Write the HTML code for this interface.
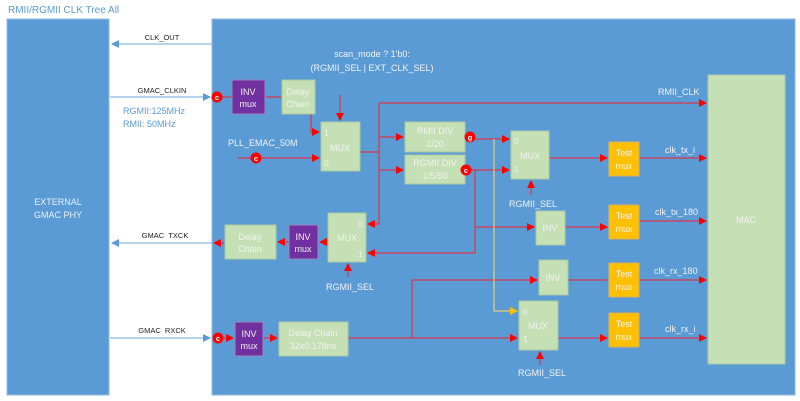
<!DOCTYPE html>
<html><head><meta charset="utf-8"><style>
body{margin:0;background:#fff}
svg{display:block;font-family:"Liberation Sans",sans-serif}
</style></head><body>
<svg width="800" height="401" viewBox="0 0 800 401" xmlns="http://www.w3.org/2000/svg">
<defs>
<marker id="ar" markerWidth="8" markerHeight="8" refX="7" refY="4" orient="auto" markerUnits="userSpaceOnUse"><path d="M0,0 L8,4 L0,8z" fill="#ff0000"/></marker>
<marker id="ab" markerWidth="8" markerHeight="8" refX="7" refY="4" orient="auto" markerUnits="userSpaceOnUse"><path d="M0,0 L8,4 L0,8z" fill="#5b9bd5"/></marker>
<marker id="ay" markerWidth="8" markerHeight="8" refX="7" refY="4" orient="auto" markerUnits="userSpaceOnUse"><path d="M0,0 L8,4 L0,8z" fill="#ffc000"/></marker>
</defs>
<text x="8" y="13" font-size="10" fill="#5b9bd5">RMII/RGMII CLK Tree All</text>
<rect x="7" y="19" width="102" height="376" fill="#5b9bd5" stroke="#8fb8e0"/>
<text x="58" y="205" font-size="9" fill="#e8f0f8" text-anchor="middle">EXTERNAL</text>
<text x="58" y="218" font-size="9" fill="#e8f0f8" text-anchor="middle">GMAC PHY</text>
<rect x="212" y="19" width="583" height="376" fill="#5b9bd5" stroke="#8fb8e0"/>

<g stroke="#9dc3e6" stroke-width="1.5" fill="none">
<line x1="212" y1="44" x2="112" y2="44" marker-end="url(#ab)"/>
<line x1="110" y1="97" x2="210" y2="97" marker-end="url(#ab)"/>
<line x1="212" y1="243" x2="112" y2="243" marker-end="url(#ab)"/>
<line x1="110" y1="338" x2="210" y2="338" marker-end="url(#ab)"/>
</g>
<g font-size="7.5" fill="#222" text-anchor="middle">
<text x="162" y="40">CLK_OUT</text>
<text x="162" y="93">GMAC_CLKIN</text>
<text x="165" y="238">GMAC&#160;&#160;TXCK</text>
<text x="162" y="333">GMAC&#160;&#160;RXCK</text>
</g>
<text x="123" y="114" font-size="9" fill="#5b9bd5">RGMII:125MHz</text>
<text x="123" y="127" font-size="9" fill="#5b9bd5">RMII: 50MHz</text>

<g stroke="#d9364a" stroke-width="1.2" fill="none">
<line x1="222" y1="97" x2="232" y2="97"/>
<line x1="265" y1="97" x2="282" y2="97"/>
<polyline points="311,114 311,132 319,132" marker-end="url(#ar)"/>
<line x1="340" y1="95" x2="340" y2="120" marker-end="url(#ar)"/>
<line x1="238" y1="158" x2="319" y2="158" marker-end="url(#ar)"/>
<polyline points="360,152 379,152"/>
<polyline points="379,103 379,224 368,224" marker-end="url(#ar)"/>
<line x1="379" y1="103" x2="706" y2="103" marker-end="url(#ar)"/>
<line x1="379" y1="137" x2="403" y2="137" marker-end="url(#ar)"/>
<line x1="379" y1="170" x2="403" y2="170" marker-end="url(#ar)"/>
<line x1="474" y1="139" x2="509" y2="139" marker-end="url(#ar)"/>
<line x1="470" y1="170" x2="509" y2="170" marker-end="url(#ar)"/>
<polyline points="475,170 475,253 368,253" marker-end="url(#ar)"/>
<line x1="475" y1="227" x2="534" y2="227" marker-end="url(#ar)"/>
<line x1="531" y1="195" x2="531" y2="181" marker-end="url(#ar)"/>
<line x1="549" y1="158" x2="607" y2="158" marker-end="url(#ar)"/>
<line x1="639" y1="158" x2="706" y2="158" marker-end="url(#ar)"/>
<line x1="565" y1="227" x2="607" y2="227" marker-end="url(#ar)"/>
<line x1="639" y1="221" x2="706" y2="221" marker-end="url(#ar)"/>
<line x1="328" y1="242" x2="320" y2="242" marker-end="url(#ar)"/>
<line x1="289" y1="242" x2="278" y2="242" marker-end="url(#ar)"/>
<line x1="225" y1="243" x2="214" y2="243" marker-end="url(#ar)"/>
<line x1="348" y1="277" x2="348" y2="264" marker-end="url(#ar)"/>
<line x1="224" y1="338" x2="233" y2="338" marker-end="url(#ar)"/>
<line x1="263" y1="338" x2="277" y2="338" marker-end="url(#ar)"/>
<line x1="348" y1="338" x2="517" y2="338" marker-end="url(#ar)"/>
<polyline points="412,338 412,280 537,280" marker-end="url(#ar)"/>
<line x1="568" y1="280" x2="607" y2="280"/>
<line x1="639" y1="280" x2="706" y2="280" marker-end="url(#ar)"/>
<line x1="558" y1="338" x2="607" y2="338" marker-end="url(#ar)"/>
<line x1="639" y1="338" x2="706" y2="338" marker-end="url(#ar)"/>
<line x1="540" y1="365" x2="540" y2="352" marker-end="url(#ar)"/>
</g>
<polyline points="494,139 494,311 517,311" stroke="#ffd966" stroke-width="1" fill="none" marker-end="url(#ay)"/>

<g stroke="#a9c9a0" stroke-width="1" fill="#c5e0b4">
<rect x="282" y="80" width="33" height="34"/>
<rect x="321" y="122" width="39" height="49"/>
<rect x="405" y="122" width="60" height="30"/>
<rect x="405" y="155" width="60" height="29"/>
<rect x="511" y="131" width="38" height="48"/>
<rect x="536" y="211" width="29" height="34"/>
<rect x="328" y="213" width="38" height="49"/>
<rect x="225" y="225" width="51" height="34"/>
<rect x="539" y="260" width="29" height="35"/>
<rect x="519" y="301" width="39" height="49"/>
<rect x="279" y="322" width="69" height="34"/>
<rect x="708" y="75" width="77" height="289"/>
</g>
<g fill="#7030a0" stroke="#9a8ac0">
<rect x="232" y="80" width="33" height="34"/>
<rect x="289" y="225" width="29" height="34"/>
<rect x="235" y="322" width="28" height="34"/>
</g>
<g fill="#ffc000" stroke="#d9b060">
<rect x="609" y="142" width="30" height="34"/>
<rect x="609" y="205" width="30" height="34"/>
<rect x="609" y="263" width="30" height="34"/>
<rect x="609" y="313" width="30" height="34"/>
</g>
<g fill="#ff0000">
<circle cx="217" cy="97" r="5.5"/><circle cx="256" cy="158" r="5.5"/>
<circle cx="470" cy="137" r="5.5"/><circle cx="466" cy="170" r="5.5"/>
<circle cx="218" cy="338" r="5.5"/>
</g>
<g font-size="7.5" fill="#fff" text-anchor="middle" font-weight="bold">
<text x="217" y="100">c</text><text x="256" y="161">c</text><text x="470" y="140">g</text><text x="466" y="173">c</text><text x="218" y="341">c</text>
</g>

<g font-size="9" fill="#f2f2f2" text-anchor="middle">
<text x="248" y="95">INV</text><text x="248" y="107">mux</text>
<text x="298" y="95">Delay</text><text x="298" y="107">Chain</text>
<text x="340" y="151">MUX</text>
<text x="435" y="134">RMII DIV</text><text x="435" y="147">2/20</text>
<text x="435" y="166">RGMII DIV</text><text x="435" y="179">1/5/50</text>
<text x="530" y="159">MUX</text>
<text x="550" y="231">INV</text>
<text x="347" y="241">MUX</text>
<text x="250" y="240">Delay</text><text x="250" y="252">Chain</text>
<text x="303" y="240">INV</text><text x="303" y="252">mux</text>
<text x="553" y="281">INV</text>
<text x="538" y="329">MUX</text>
<text x="313" y="336">Delay Chain</text><text x="313" y="349">32x0.178ns</text>
<text x="249" y="337">INV</text><text x="249" y="349">mux</text>
<text x="746" y="223">MAC</text>
<text x="624" y="156">Test</text><text x="624" y="169">mux</text>
<text x="624" y="219">Test</text><text x="624" y="232">mux</text>
<text x="624" y="277">Test</text><text x="624" y="290">mux</text>
<text x="624" y="327">Test</text><text x="624" y="340">mux</text>
</g>
<g font-size="8.5" fill="#f2f2f2">
<text x="324" y="136">1</text><text x="324" y="166">0</text>
<text x="514" y="144">0</text><text x="514" y="172">1</text>
<text x="358" y="227">0</text><text x="358" y="257">1</text>
<text x="523" y="315">0</text><text x="523" y="342">1</text>
</g>
<g font-size="9" fill="#f2f2f2">
<text x="372" y="57" text-anchor="middle">scan_mode ? 1'b0:</text>
<text x="372" y="71" text-anchor="middle">(RGMII_SEL | EXT_CLK_SEL)</text>
<text x="228" y="146">PLL_EMAC_50M</text>
<text x="658" y="95">RMII_CLK</text>
<text x="665" y="153">clk_tx_i</text>
<text x="655" y="215">clk_tx_180</text>
<text x="654" y="274">clk_rx_180</text>
<text x="665" y="332">clk_rx_i</text>
<text x="509" y="207">RGMII_SEL</text>
<text x="326" y="290">RGMII_SEL</text>
<text x="518" y="376">RGMII_SEL</text>
</g>
</svg>
</body></html>
